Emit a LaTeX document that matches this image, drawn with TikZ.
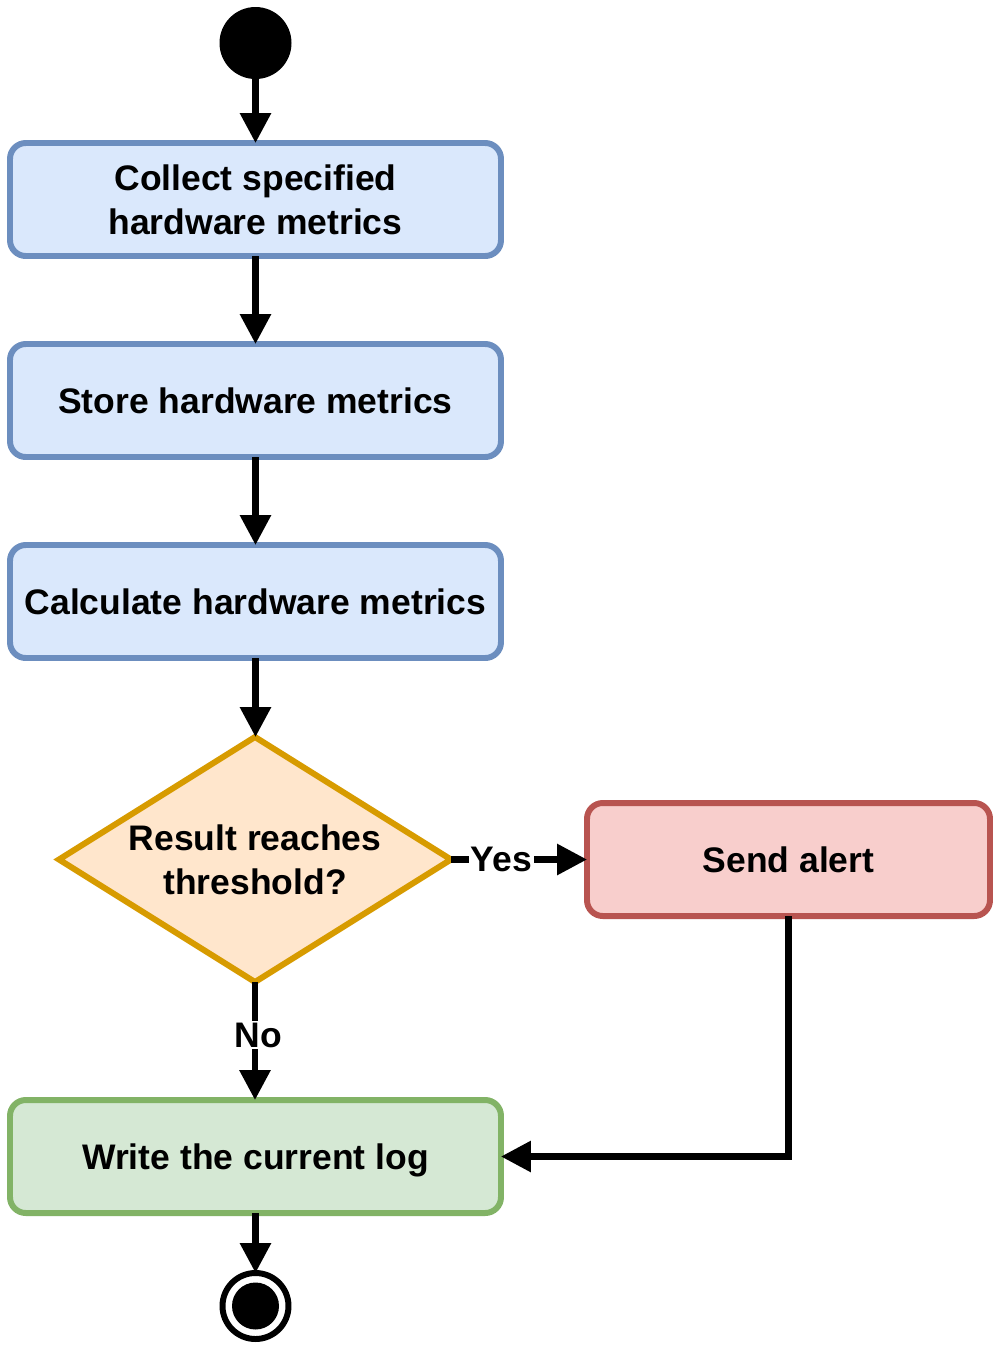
\documentclass[tikz,border=0pt]{standalone}
\usepackage{fontspec}
\setmainfont{Liberation Sans}
\usetikzlibrary{shapes.geometric,arrows.meta}
\definecolor{bluefill}{HTML}{DAE8FC}
\definecolor{bluedraw}{HTML}{6C8EBF}
\definecolor{orfill}{HTML}{FFE6CC}
\definecolor{ordraw}{HTML}{D79B00}
\definecolor{redfill}{HTML}{F8CECC}
\definecolor{reddraw}{HTML}{B85450}
\definecolor{grfill}{HTML}{D5E8D4}
\definecolor{grdraw}{HTML}{82B366}
\tikzset{
  box/.style={rectangle, rounded corners=9pt, line width=3.4pt, outer sep=0pt, minimum width=491*0.02cm, minimum height=113*0.02cm, inner sep=0pt, align=center, font=\fontsize{20.2}{25}\selectfont\bfseries},
  bluebox/.style={box, fill=bluefill, draw=bluedraw},
  conn/.style={line width=3.5pt, -{Triangle[width=17pt,length=17pt]}},
  lbl/.style={fill=white, inner sep=1pt, font=\fontsize{20.2}{25}\selectfont\bfseries},
}
\begin{document}
\begin{tikzpicture}[x=0.02cm,y=-0.02cm]
\useasboundingbox (0,0) rectangle (1000,1350);
\node[circle, fill=black, minimum size=72*0.02cm, inner sep=0pt, outer sep=0pt] (start) at (255.5,43) {};
\node[bluebox] (collect) at (255.5,199.5) {Collect specified\\hardware metrics};
\node[bluebox] (store) at (255.5,400.5) {Store hardware metrics};
\node[bluebox] (calc) at (255.5,601.5) {Calculate hardware metrics};
\node[diamond, fill=orfill, draw=ordraw, line width=3.4pt, outer sep=0pt, minimum width=392*0.02cm, minimum height=245*0.02cm, inner sep=0pt, aspect=1.6, align=center, font=\fontsize{20.2}{25}\selectfont\bfseries] (dec) at (255,859.5) {Result reaches\\threshold?};
\node[box, fill=redfill, draw=reddraw, minimum width=403*0.02cm] (alert) at (788.5,859.5) {Send alert};
\node[box, fill=grfill, draw=grdraw, text depth=0pt] (log) at (255.5,1156.5) {Write the current log};
\node[circle, draw=black, line width=3.4pt, fill=white, outer sep=0pt, minimum size=66*0.02cm, inner sep=0pt] (end) at (255.5,1306) {};
\node[circle, fill=black, minimum size=47*0.02cm, inner sep=0pt] (endin) at (255.5,1306) {};
\draw[conn] (start.south) -- (collect.north);
\draw[conn] (collect.south) -- (store.north);
\draw[conn] (store.south) -- (calc.north);
\draw[conn] (calc.south) -- (dec.north -| calc.south);
\draw[conn] (dec.east) -- node[lbl, pos=0.37] (yes) {Yes} (alert.west);
\draw[conn] (dec.south) -- node[lbl, pos=0.45, xshift=2pt] (no) {No} (log.north -| dec.south);
\draw[conn] (alert.south) |- (log.east);
\draw[conn] (log.south) -- (end.north);
\end{tikzpicture}
\end{document}
